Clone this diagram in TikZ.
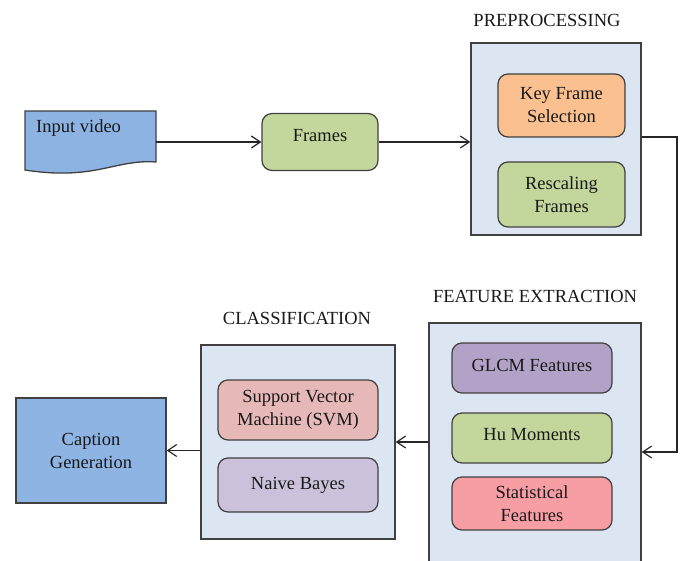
\documentclass[tikz,border=0pt]{standalone}
\usepackage{fontspec}
\setmainfont{Liberation Serif}
\usetikzlibrary{arrows.meta}

\definecolor{docblue}{HTML}{8DB3E2}
\definecolor{capblue}{HTML}{8EB4E3}
\definecolor{leaf}{HTML}{C3D69B}
\definecolor{peach}{HTML}{FAC090}
\definecolor{lilac}{HTML}{B3A2C7}
\definecolor{rose}{HTML}{F79EA5}
\definecolor{blush}{HTML}{E6B9B8}
\definecolor{lavender}{HTML}{CCC1DA}
\definecolor{panelfill}{HTML}{DCE6F2}
\definecolor{edge}{HTML}{404040}

\tikzset{
  txt/.style={font=\fontsize{18.5pt}{23pt}\selectfont, text=black!90},
  panel/.style={draw=edge, line width=1.3pt, fill=panelfill},
  stepbox/.style={txt, draw=edge, line width=1.2pt, rounded corners=10pt,
    align=center, inner sep=2pt},
  plainbox/.style={txt, draw=edge, line width=1.3pt, align=center},
  heading/.style={txt, inner sep=0pt},
  conn/.style={line width=1.2pt, draw=black!85,
    -{Straight Barb[length=9pt,width=12pt,line width=1.2pt]}},
}

\begin{document}
\begin{tikzpicture}[x=1pt,y=-1pt]
\useasboundingbox (0,0) rectangle (682,561);

% input document shape
\filldraw[fill=docblue, draw=edge, line width=1.3pt]
  (25,111) -- (156,111) -- (156,162)
  .. controls (115,159) and (95,181) .. (25,170) -- cycle;
\node[minimum width=131pt, minimum height=62pt, inner sep=0pt] (input) at (90.5,142) {};
\node[txt, anchor=base west, inner sep=0pt] (inputtxt) at (36,133) {Input video};

% frames
\node[stepbox, fill=leaf, minimum width=116pt, minimum height=57pt, text depth=14pt]
  (frames) at (320,142) {Frames};

% preprocessing stage
\node[heading] (pretitle) at (547,20) {PREPROCESSING};
\node[panel, minimum width=170pt, minimum height=192pt] (pre) at (556,139) {};
\node[stepbox, fill=peach, minimum width=127pt, minimum height=63pt]
  (keyf) at (561.5,105.5) {Key Frame\\Selection};
\node[stepbox, fill=leaf, minimum width=127pt, minimum height=65pt]
  (resc) at (561.5,194.5) {Rescaling\\Frames};

% feature extraction stage
\node[heading] (feattitle) at (535,296) {FEATURE EXTRACTION};
\node[panel, minimum width=212pt, minimum height=258pt] (feat) at (535,452) {};
\node[stepbox, fill=lilac, minimum width=160pt, minimum height=50pt, text depth=6pt]
  (glcm) at (532,368) {GLCM Features};
\node[stepbox, fill=leaf, minimum width=160pt, minimum height=50pt, text depth=8pt]
  (hu) at (532,438) {Hu Moments};
\node[stepbox, fill=rose, minimum width=160pt, minimum height=53pt]
  (stat) at (532,503.5) {Statistical\\Features};

% classification stage
\node[heading] (clstitle) at (297,318) {CLASSIFICATION};
\node[panel, minimum width=194pt, minimum height=194pt] (cls) at (298,442) {};
\node[stepbox, fill=blush, minimum width=160pt, minimum height=60pt]
  (svm) at (298,410) {Support Vector\\Machine (SVM)};
\node[stepbox, fill=lavender, minimum width=160pt, minimum height=54pt]
  (nb) at (298,485) {Naive Bayes};

% output
\node[plainbox, fill=capblue, minimum width=150pt, minimum height=105pt]
  (cap) at (91,450.5) {Caption\\Generation};

% connectors
\coordinate (turn) at (677,0);
\draw[conn] (input.east) -- (frames.west);
\draw[conn] (frames.east) -- (frames.east -| pre.west);
\draw[conn] ([yshift=2pt]pre.east) -- ([yshift=2pt]turn |- pre.east) |- (feat.east);
\draw[conn] (feat.west |- cls.east) -- (cls.east);
\draw[conn] (cls.west |- cap.east) -- (cap.east);
\end{tikzpicture}
\end{document}
